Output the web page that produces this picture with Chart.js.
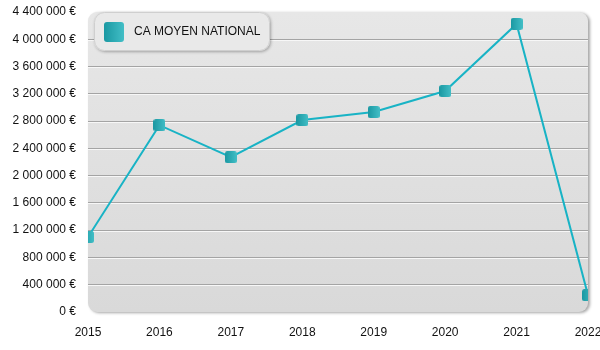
<!DOCTYPE html>
<html>
<head>
<meta charset="utf-8">
<script src="https://cdn.jsdelivr.net/npm/chart.js@4/dist/chart.umd.min.js"></script>
<style>
  html, body { margin: 0; padding: 0; background: #ffffff; }
  #wrap { width: 600px; height: 350px; position: relative; }
</style>
</head>
<body>
<div id="wrap"><canvas id="chart"></canvas></div>
<script>
// Years on the horizontal axis
const years = ['2015', '2016', '2017', '2018', '2019', '2020', '2021', '2022'];
// Average national turnover per year, in euros
const caMoyen = [1100000, 2740000, 2270000, 2815000, 2933000, 3241000, 4225000, 247000];
const seriesLabel = 'CA MOYEN NATIONAL';
// Vertical axis range and step
const yMin = 0;
const yMax = 4400000;
const yStep = 400000;

const FONT = '"Liberation Sans", Arial, Helvetica, sans-serif';

function euro(v) {
  return String(Math.round(v)).replace(/\B(?=(\d{3})+(?!\d))/g, ' ') + ' €';
}

function roundRectPath(ctx, x, y, w, h, r) {
  ctx.beginPath();
  ctx.moveTo(x + r, y);
  ctx.lineTo(x + w - r, y);
  ctx.arcTo(x + w, y, x + w, y + r, r);
  ctx.lineTo(x + w, y + h - r);
  ctx.arcTo(x + w, y + h, x + w - r, y + h, r);
  ctx.lineTo(x + r, y + h);
  ctx.arcTo(x, y + h, x, y + h - r, r);
  ctx.lineTo(x, y + r);
  ctx.arcTo(x, y, x + r, y, r);
  ctx.closePath();
}

// Teal rounded square used for markers and the legend swatch
function tealSquare(size, r) {
  const c = document.createElement('canvas');
  c.width = size; c.height = size;
  const g = c.getContext('2d');
  const grad = g.createLinearGradient(0, 0, size, 0);
  grad.addColorStop(0, '#1a98a2');
  grad.addColorStop(1, '#42bec6');
  g.fillStyle = grad;
  roundRectPath(g, 0, 0, size, size, r);
  g.fill();
  return c;
}

const marker = tealSquare(12, 2.5);
const legendSwatch = tealSquare(20, 3);

// Rounded grey panel behind the plot
const panelPlugin = {
  id: 'panel',
  beforeDraw(chart) {
    const { ctx, chartArea: a } = chart;
    ctx.save();
    ctx.shadowColor = 'rgba(0,0,0,0.35)';
    ctx.shadowBlur = 3;
    ctx.shadowOffsetX = 2;
    ctx.shadowOffsetY = 1;
    const grad = ctx.createLinearGradient(0, a.top, 0, a.bottom);
    grad.addColorStop(0, '#e7e7e7');
    grad.addColorStop(1, '#d9d9d9');
    ctx.fillStyle = grad;
    roundRectPath(ctx, a.left, a.top, a.right - a.left, a.bottom - a.top, 9);
    ctx.fill();
    ctx.restore();
  },
  // white highlight under each grid line
  beforeDatasetsDraw(chart) {
    const { ctx, chartArea: a } = chart;
    const ys = chart.scales.y;
    ctx.save();
    ctx.strokeStyle = '#f7f7f7';
    ctx.lineWidth = 1;
    ys.ticks.forEach(t => {
      if (t.value === yMin || t.value === yMax) return;
      const p = Math.round(ys.getPixelForValue(t.value) - 0.5) + 0.5 + 1;
      ctx.beginPath();
      ctx.moveTo(a.left, p);
      ctx.lineTo(a.right, p);
      ctx.stroke();
    });
    ctx.restore();
  },
  // legend box in the top-left corner of the plot
  afterDraw(chart) {
    const { ctx, chartArea: a } = chart;
    const ds = chart.data.datasets[0];
    const bx = a.left + 6, by = a.top, bw = 176, bh = 39;
    ctx.save();
    ctx.shadowColor = 'rgba(0,0,0,0.3)';
    ctx.shadowBlur = 3;
    ctx.shadowOffsetX = 1;
    ctx.shadowOffsetY = 1;
    ctx.fillStyle = '#e9e9e9';
    roundRectPath(ctx, bx, by, bw, bh, 10);
    ctx.fill();
    ctx.restore();
    ctx.save();
    ctx.strokeStyle = '#cfcfcf';
    ctx.lineWidth = 1;
    roundRectPath(ctx, bx + 0.5, by + 0.5, bw - 1, bh - 1, 10);
    ctx.stroke();
    ctx.drawImage(legendSwatch, bx + 10, by + 10);
    ctx.fillStyle = '#111111';
    ctx.font = '12px ' + FONT;
    ctx.textBaseline = 'middle';
    ctx.textAlign = 'left';
    ctx.fillText(ds.label, bx + 40, by + 20);
    ctx.restore();
  }
};

new Chart(document.getElementById('chart'), {
  type: 'line',
  data: {
    labels: years,
    datasets: [{
      label: seriesLabel,
      data: caMoyen,
      borderColor: '#18b3c5',
      borderWidth: 2,
      tension: 0,
      fill: false,
      clip: 0,
      pointStyle: marker,
      pointRadius: 6,
      pointHoverRadius: 6
    }]
  },
  options: {
    responsive: true,
    maintainAspectRatio: false,
    animation: false,
    events: [],
    layout: { autoPadding: false, padding: { top: 12, right: 12, left: 0, bottom: 0 } },
    plugins: { legend: { display: false }, tooltip: { enabled: false } },
    scales: {
      x: {
        type: 'category',
        offset: false,
        grid: { display: false, drawTicks: false },
        border: { display: false },
        ticks: { padding: 13, color: '#111111', font: { size: 12, family: FONT }, maxRotation: 0, autoSkip: false },
        afterFit(s) { s.height = 38; s.paddingLeft = 0; s.paddingRight = 0; }
      },
      y: {
        min: yMin,
        max: yMax,
        grid: {
          drawTicks: false,
          lineWidth: 1,
          color: (c) => (c.tick && (c.tick.value === yMin || c.tick.value === yMax)) ? 'rgba(0,0,0,0)' : '#a4a4a4'
        },
        border: { display: false },
        ticks: { stepSize: yStep, padding: 12, color: '#111111', font: { size: 12, family: FONT }, callback: (v) => euro(v) },
        afterFit(s) { s.width = 88; s.paddingTop = 0; s.paddingBottom = 0; }
      }
    }
  },
  plugins: [panelPlugin]
});
</script>
</body>
</html>
